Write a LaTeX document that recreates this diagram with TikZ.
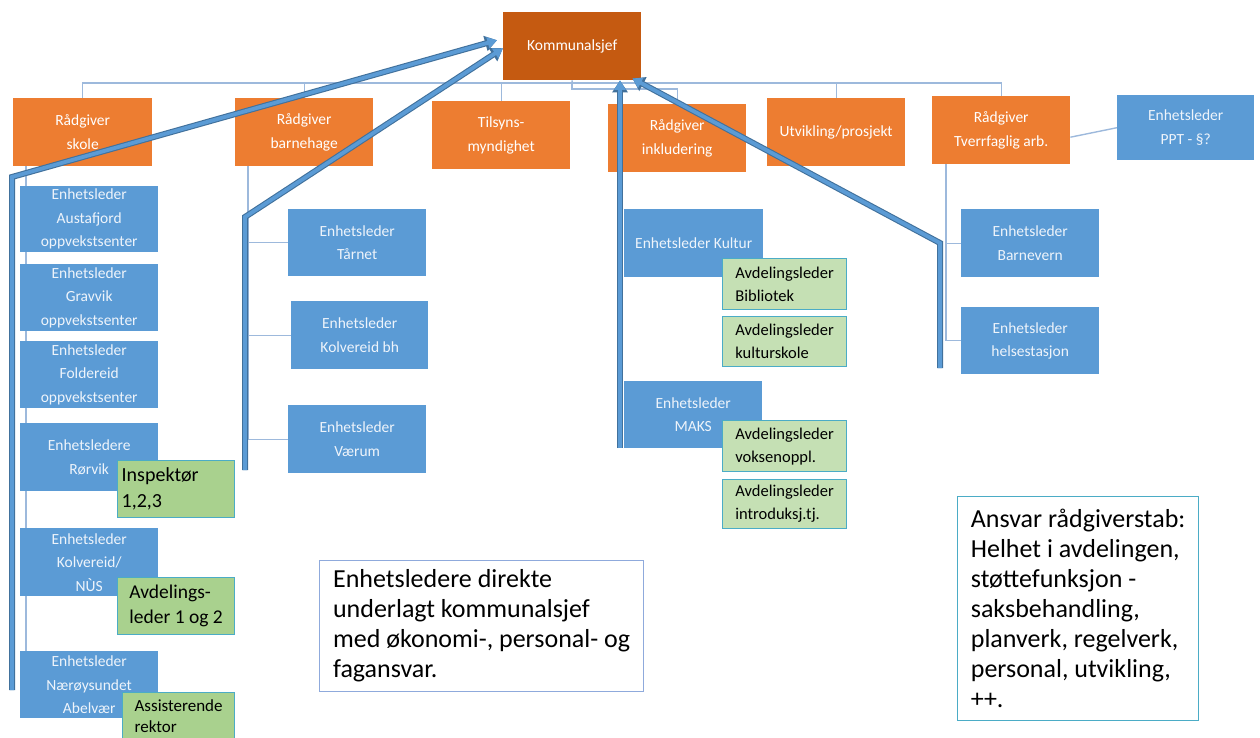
\documentclass[tikz,border=0pt]{standalone}
\usepackage{fontspec}
\setmainfont{Carlito}
\usetikzlibrary{arrows.meta}
\definecolor{ksorange}{HTML}{C55A11}
\definecolor{orng}{HTML}{ED7D31}
\definecolor{blu}{HTML}{5B9BD5}
\definecolor{grn}{HTML}{A9D18E}
\definecolor{lgrn}{HTML}{C5E0B4}
\definecolor{grnedge}{HTML}{4BACC6}
\definecolor{connc}{HTML}{9DB9DC}
\definecolor{arrowedge}{HTML}{41719C}
\definecolor{noteone}{HTML}{8FAADC}
\definecolor{notetwo}{HTML}{4BACC6}
\definecolor{boxtext}{HTML}{EEF4FB}
\begin{document}
\begin{tikzpicture}[x=1pt,y=-1pt,
  base/.style={anchor=north west, inner sep=0pt, align=center},
  orangebox/.style={base, fill=orng, text=white, font=\fontsize{15.5}{24}\selectfont},
  bluebox/.style={base, fill=blu, text=boxtext, font=\fontsize{15.5}{23.5}\selectfont},
  greenbig/.style={base, fill=grn, draw=grnedge, line width=1.2pt, align=left, text=black},
  greensmall/.style={base, fill=lgrn, draw=grnedge, line width=1.2pt, align=left, text=black, font=\fontsize{16.5}{23}\selectfont, minimum width=124pt},
  notebox/.style={base, fill=white, line width=1.2pt, align=left, text=black, font=\fontsize{26}{30}\selectfont},
  connline/.style={draw=connc, line width=1.4pt},
  bigout/.style={draw=arrowedge, line width=6pt, line join=miter, -{Triangle[length=12pt,width=15pt]}},
  bigin/.style={draw=blu, line width=3.8pt, line join=miter, -{Triangle[length=9.5pt,width=11pt]}}
]
\useasboundingbox (0,0) rectangle (1260,738);

% top and advisor row
\node[orangebox, fill=ksorange, minimum width=138pt, minimum height=68pt] (ks) at (503,12) {Kommunalsjef};
\node[orangebox, minimum width=139pt, minimum height=68pt] (skole) at (13,98) {Rådgiver\\skole};
\node[orangebox, minimum width=138pt, minimum height=68pt] (bh) at (235,98) {Rådgiver\\barnehage};
\node[orangebox, minimum width=138pt, minimum height=68pt] (tilsyn) at (432,101) {Tilsyns-\\myndighet};
\node[orangebox, minimum width=138pt, minimum height=68pt] (ink) at (608,104) {Rådgiver\\inkludering};
\node[orangebox, minimum width=138pt, minimum height=68pt] (utv) at (767,98) {Utvikling/prosjekt};
\node[orangebox, minimum width=138pt, minimum height=68pt] (tverr) at (932,96) {Rådgiver\\Tverrfaglig arb.};
\node[bluebox, minimum width=137pt, minimum height=65pt] (ppt) at (1117,95) {Enhetsleder\\PPT - §?};

% connectors
\coordinate (bus) at (572,83);
\coordinate (bustwo) at (572,89);
\coordinate (skx) at (26,166);
\coordinate (skend) at (26,690);
\coordinate (bhx) at (248,166);
\coordinate (inx) at (622,172);
\coordinate (inend) at (622,440);
\coordinate (tvx) at (946,164);

\draw[connline] (ks.south) -- (bus);
\draw[connline] (skole.north) |- (bus);
\draw[connline] (bh.north) |- (bus);
\draw[connline] (tilsyn.north) |- (bus);
\draw[connline] (utv.north) |- (bus);
\draw[connline] (tverr.north) |- (bus);
\draw[connline] (ink.north) |- (bustwo) -- (bus);
\draw[connline] ([shift={(0,7)}]tverr.east) -- (ppt.west);
\draw[connline] (skx) -- (skend);
\draw[connline] (inx) -- (inend);

% skole column
\node[bluebox, minimum width=138pt, minimum height=66pt] (aust) at (20,186) {Enhetsleder\\Austafjord\\oppvekstsenter};
\node[bluebox, minimum width=138pt, minimum height=67pt] (grav) at (20,264) {Enhetsleder\\Gravvik\\oppvekstsenter};
\node[bluebox, minimum width=138pt, minimum height=67pt] (fold) at (20,341) {Enhetsleder\\Foldereid\\oppvekstsenter};
\node[bluebox, minimum width=138pt, minimum height=68pt] (rorv) at (20,423) {Enhetsledere\\Rørvik};
\node[bluebox, minimum width=138pt, minimum height=68pt] (kolv) at (20,528) {Enhetsleder\\Kolvereid/\\NÙS};
\node[bluebox, minimum width=138pt, minimum height=67pt] (naer) at (20,651) {Enhetsleder\\Nærøysundet\\Abelvær};
\node[greenbig, minimum width=117pt, minimum height=57pt, font=\fontsize{20}{26}\selectfont] (insp) at (117,460) {Inspektør\hphantom{mm}\\1,2,3};
\node[greenbig, minimum width=117pt, minimum height=57pt, font=\fontsize{19.5}{25}\selectfont] (avd) at (117,577) {Avdelings-\\leder 1 og 2};
\node[greenbig, minimum width=112pt, minimum height=47pt, font=\fontsize{17}{21}\selectfont] (ass) at (122,692) {Assisterende\\rektor};

% barnehage column
\node[bluebox, minimum width=138pt, minimum height=67pt] (tarn) at (288,209) {Enhetsleder\\Tårnet};
\node[bluebox, minimum width=137pt, minimum height=68pt] (kolvbh) at (291,301) {Enhetsleder\\Kolvereid bh};
\node[bluebox, minimum width=138pt, minimum height=68pt] (vaer) at (288,405) {Enhetsleder\\Værum};
\draw[connline] (bhx) |- (tarn.west);
\draw[connline] (bhx) |- (kolvbh.west);
\draw[connline] (bhx) |- (vaer.west);

% inkludering column
\node[bluebox, minimum width=139pt, minimum height=68pt] (kultur) at (624,209) {Enhetsleder Kultur};
\node[bluebox, minimum width=138pt, minimum height=67pt] (maks) at (624,381) {Enhetsleder\\MAKS};
\node[greensmall, minimum height=51pt] (bib) at (722,258) {Avdelingsleder\\Bibliotek};
\node[greensmall, minimum height=50pt] (kskole) at (722,316) {Avdelingsleder\\kulturskole};
\node[greensmall, minimum height=51pt] (voks) at (722,420) {Avdelingsleder\\voksenoppl.};
\node[greensmall, minimum height=49pt] (intro) at (722,479) {Avdelingsleder\\introduksj.tj.};

% tverrfaglig column
\node[bluebox, minimum width=138pt, minimum height=68pt] (barnev) at (961,209) {Enhetsleder\\Barnevern};
\node[bluebox, minimum width=138pt, minimum height=67pt] (helse) at (961,307) {Enhetsleder\\helsestasjon};
\draw[connline] (tvx) |- (barnev.west);
\draw[connline] (tvx) |- (helse.west);

% big arrows
\coordinate (aones) at (12,690);
\coordinate (aoneb) at (12,177);
\coordinate (atwos) at (245,470);
\coordinate (atwob) at (245,217);
\coordinate (athrees) at (620,448);
\coordinate (afours) at (940,368);
\coordinate (afourb) at (940,243);
\foreach \st in {bigout,bigin}{
  \draw[\st] (aones) -- (aoneb) -- ([shift={(-6,-6)}]ks.west);
  \draw[\st] (atwos) -- (atwob) -- ([shift={(0,2)}]ks.west);
  \draw[\st] (athrees) -- (athrees |- ks.south);
  \draw[\st] (afours) -- (afourb) -- ([shift={(-9,-2)}]ks.south east);
}

% notes
\node[notebox, draw=noteone, minimum width=324pt, minimum height=131pt] (noteA) at (319,560)
  {Enhetsledere direkte\\underlagt kommunalsjef\\med økonomi-, personal- og\\fagansvar.};
\node[notebox, draw=notetwo, minimum width=241pt, minimum height=224pt] (noteB) at (957,496)
  {Ansvar rådgiverstab:\\Helhet i avdelingen,\\støttefunksjon -\\saksbehandling,\\planverk, regelverk,\\personal, utvikling,\\++.};
\end{tikzpicture}
\end{document}
